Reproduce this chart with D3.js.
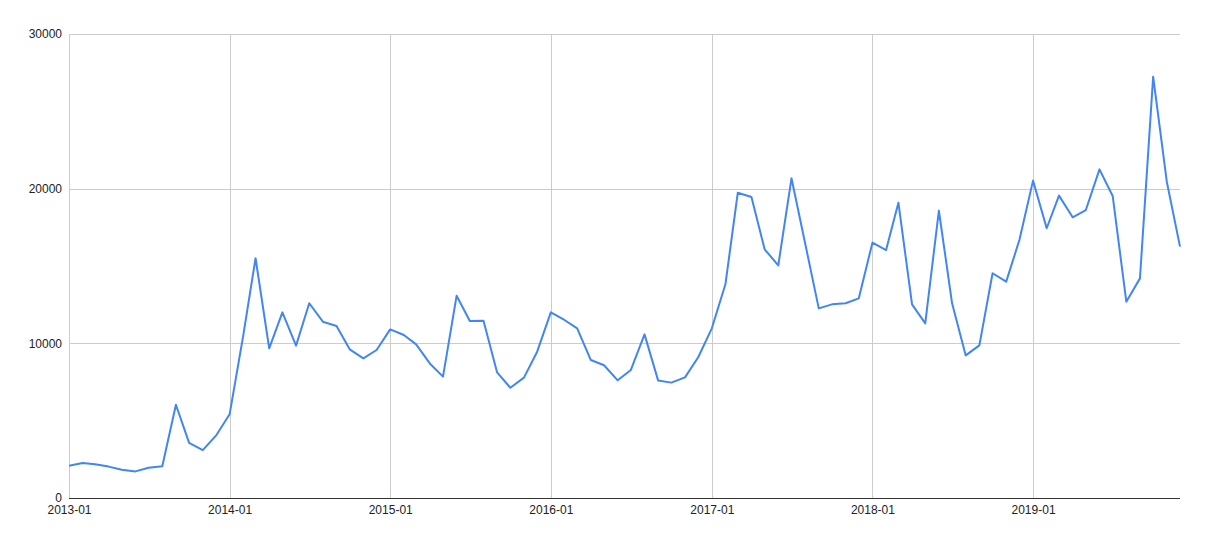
<!DOCTYPE html>
<html>
<head>
<meta charset="utf-8">
<script src="https://cdn.jsdelivr.net/npm/d3@7"></script>
<style>
  body { margin: 0; background: #fff; }
  text { font-family: Arial, "Liberation Sans", sans-serif; font-size: 12px; fill: #222; }
</style>
</head>
<body>
<div id="chart"></div>
<script>
var svgWidth = 1207;
var svgHeight = 546;

var margin = { top: 34, right: 27, bottom: 48, left: 69 };
var width = svgWidth - margin.left - margin.right;
var height = svgHeight - margin.top - margin.bottom;

// monthly values, 2013-01 .. 2019-12
var startMonth = "2013-01";
var values = [
  2090, 2260, 2180, 2030, 1830, 1720, 1960, 2050, 6030, 3560, 3100, 4030,
  5410, 10500, 15500, 9680, 12000, 9850, 12590, 11400, 11120, 9610, 9030, 9570,
  10900, 10540, 9930, 8700, 7850, 13080, 11440, 11460, 8120, 7130, 7780, 9460,
  12000, 11510, 10970, 8920, 8580, 7610, 8280, 10580, 7590, 7460, 7800, 9100,
  10970, 13840, 19740, 19460, 16080, 15040, 20670, 16470, 12260, 12520, 12590, 12910,
  16510, 16030, 19090, 12520, 11290, 18580, 12590, 9220, 9870, 14530, 13990, 16680,
  20520, 17440, 19550, 18150, 18620, 21250, 19530, 12690, 14200, 27240, 20450, 16250
];
var yTicks = [0, 10000, 20000, 30000];
var xTickLabels = ["2013-01", "2014-01", "2015-01", "2016-01", "2017-01", "2018-01", "2019-01"];

var parseMonth = d3.timeParse("%Y-%m");
var start = parseMonth(startMonth);
var data = values.map(function(v, i) {
  return { date: d3.timeMonth.offset(start, i), value: v };
});

var svg = d3.select("#chart")
  .append("svg")
  .attr("width", svgWidth)
  .attr("height", svgHeight);

var chartGroup = svg.append("g")
  .attr("transform", `translate(${margin.left}, ${margin.top})`);

var xScale = d3.scaleTime()
  .domain([start, data[data.length - 1].date])
  .range([0, width]);

var yScale = d3.scaleLinear()
  .domain([0, 30000])
  .range([height, 0]);

var xTicks = xTickLabels.map(parseMonth);

// gridlines
chartGroup.append("g")
  .selectAll("line.h")
  .data(yTicks.filter(d => d > 0))
  .enter()
  .append("line")
  .attr("x1", 0)
  .attr("x2", width)
  .attr("y1", d => Math.round(yScale(d)) + 0.5)
  .attr("y2", d => Math.round(yScale(d)) + 0.5)
  .attr("stroke", "#cccccc")
  .attr("stroke-width", 1);

chartGroup.append("g")
  .selectAll("line.v")
  .data(xTicks)
  .enter()
  .append("line")
  .attr("x1", d => Math.round(xScale(d)) + 0.5)
  .attr("x2", d => Math.round(xScale(d)) + 0.5)
  .attr("y1", 0)
  .attr("y2", height)
  .attr("stroke", "#cccccc")
  .attr("stroke-width", 1);

// y axis labels
var leftAxis = d3.axisLeft(yScale)
  .tickValues(yTicks)
  .tickSize(0)
  .tickPadding(7)
  .tickFormat(d3.format("d"));

var yAxisG = chartGroup.append("g").call(leftAxis);
yAxisG.select(".domain").remove();
yAxisG.selectAll("text").style("font-size", "12px").attr("fill", "#222");

// x axis labels
var bottomAxis = d3.axisBottom(xScale)
  .tickValues(xTicks)
  .tickSize(0)
  .tickPadding(7)
  .tickFormat(d3.timeFormat("%Y-%m"));

var xAxisG = chartGroup.append("g")
  .attr("transform", `translate(0, ${height})`)
  .call(bottomAxis);
xAxisG.select(".domain").remove();
xAxisG.selectAll("text").style("font-size", "12px").attr("fill", "#222");

// line
var line = d3.line()
  .x(d => xScale(d.date))
  .y(d => yScale(d.value));

chartGroup.append("path")
  .datum(data)
  .attr("fill", "none")
  .attr("stroke", "#4285f4")
  .attr("stroke-width", 2)
  .attr("stroke-linejoin", "round")
  .attr("d", line);

// baseline
chartGroup.append("line")
  .attr("x1", 0)
  .attr("x2", width)
  .attr("y1", height + 0.5)
  .attr("y2", height + 0.5)
  .attr("stroke", "#333333")
  .attr("stroke-width", 1);
</script>
</body>
</html>
